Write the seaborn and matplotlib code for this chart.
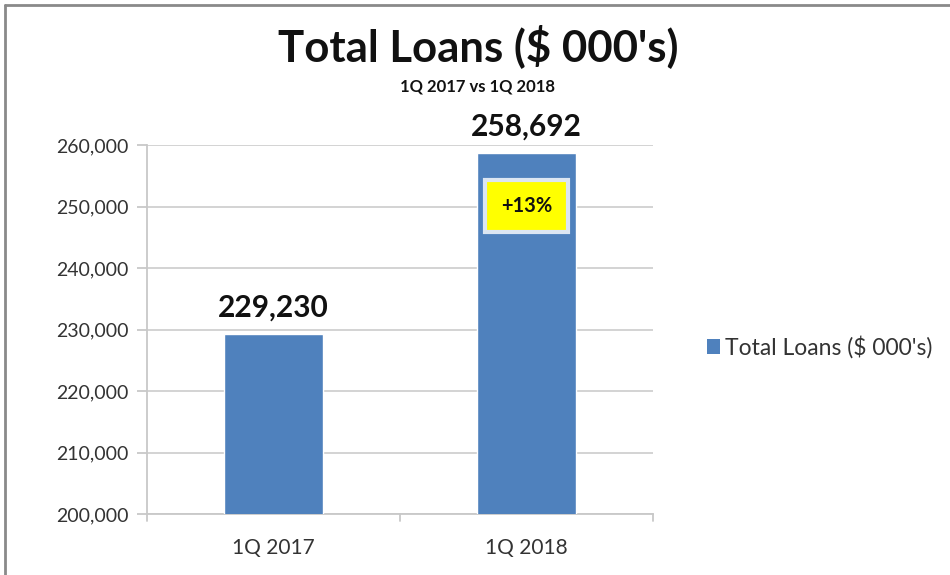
import matplotlib
matplotlib.use("Agg")
import matplotlib.pyplot as plt
import seaborn as sns
import pandas as pd
from matplotlib.patches import Patch
from matplotlib.lines import Line2D

categories = ["1Q 2017", "1Q 2018"]
values = [229230, 258692]
value_labels = ["229,230", "258,692"]
yticks = [200000, 210000, 220000, 230000, 240000, 250000, 260000]
series_name = "Total Loans ($ 000's)"
title = "Total Loans ($ 000's)"
subtitle = "1Q 2017 vs 1Q 2018"
growth_label = "+13%"

sns.set_theme(style="white")
plt.rcParams["font.family"] = ["Lato", "DejaVu Sans"]

df = pd.DataFrame({"quarter": categories, "loans": values})

fig = plt.figure(figsize=(9.5, 5.75), dpi=100)
ax = fig.add_axes([147/950, 1-514/575, (653-147)/950, (514-145)/575])

bar_color = "#4f81bd"
sns.barplot(data=df, x="quarter", y="loans", color=bar_color, width=0.39,
            ax=ax, saturation=1, zorder=3)

ax.set_ylim(200000, 260000)
ax.set_xlim(-0.5, 1.5)
ax.set_yticks(yticks)
ax.set_yticklabels([f"{t:,}" for t in yticks])
ax.set_xlabel("")
ax.set_ylabel("")
ax.yaxis.grid(True, color="#d0d0d0", linewidth=1.3, zorder=0)
ax.set_axisbelow(True)
for s in ["top", "right"]:
    ax.spines[s].set_visible(False)
for s in ["left", "bottom"]:
    ax.spines[s].set_color("#c8c8c8")
    ax.spines[s].set_linewidth(1.3)

ax.tick_params(axis="y", which="both", left=True, length=7, width=1.3, color="#c8c8c8",
               labelsize=14, labelcolor="#333333", pad=6)
ax.set_xticks([0, 1])
ax.set_xticklabels(categories)
ax.tick_params(axis="x", bottom=False, labelsize=15, labelcolor="#333333", pad=11)
for xb in [-0.5, 0.5, 1.5]:
    ax.add_line(Line2D([xb, xb], [0, -0.02], transform=ax.get_xaxis_transform(),
                       color="#c8c8c8", lw=1.3, clip_on=False))

# value labels
for i, (v, lab) in enumerate(zip(values, value_labels)):
    ax.annotate(lab, xy=(i, v), xytext=(0, 9), textcoords="offset points",
                ha="center", va="bottom", fontsize=21.5, fontweight="bold", color="#111111",
                annotation_clip=False)

# growth box
ax.text(1, 250100, growth_label, ha="center", va="center", fontsize=14.5,
        fontweight="bold", color="#111111", zorder=5,
        bbox=dict(boxstyle="square,pad=0.8", facecolor="#ffff00",
                  edgecolor="#dce6f2", linewidth=3))

fig.text(0.503, 1-46/575, title, ha="center", va="center", fontsize=31.5, fontweight="bold",
         color="#111111")
fig.text(0.503, 1-87/575, subtitle, ha="center", va="center", fontsize=12, fontweight="bold",
         color="#111111")

handle = Patch(facecolor=bar_color, edgecolor="none")
fig.legend([handle], [series_name], loc="center left", bbox_to_anchor=(686/950, 1-347/575),
           frameon=False, fontsize=16.5, handlelength=0.6, handleheight=0.6,
           handletextpad=0.2, labelcolor="#333333")

# outer border (top and left)
fig.add_artist(Line2D([5/950, 5/950], [0, 1-5/575], transform=fig.transFigure,
                      color="#8a8a8a", lw=2))
fig.add_artist(Line2D([5/950, 1], [1-5/575, 1-5/575], transform=fig.transFigure,
                      color="#8a8a8a", lw=2))

fig.savefig("out.png", dpi=100, facecolor="white")
